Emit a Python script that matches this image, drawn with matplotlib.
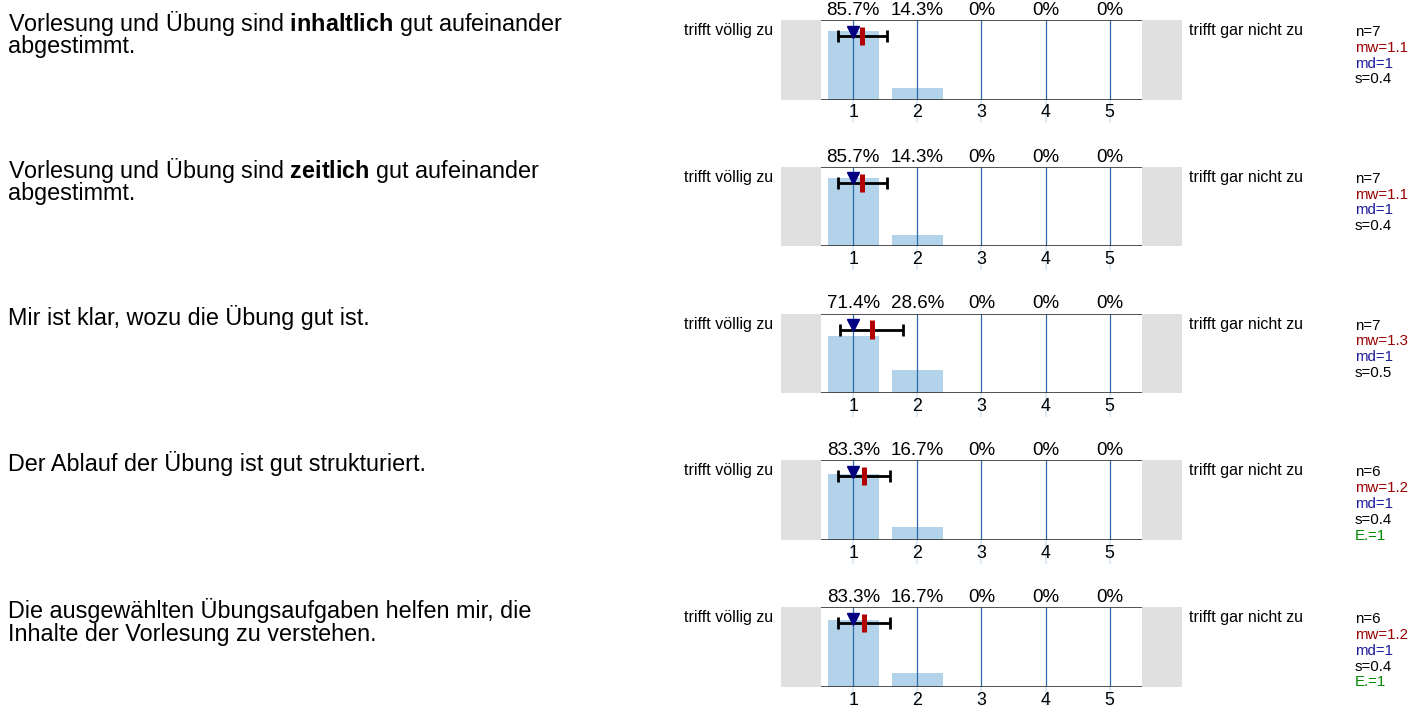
import matplotlib
matplotlib.use('Agg')
import matplotlib.pyplot as plt

plt.rcParams['font.family'] = 'Liberation Sans'
plt.rcParams['mathtext.fontset'] = 'custom'
plt.rcParams['mathtext.rm'] = 'Liberation Sans'
plt.rcParams['mathtext.bf'] = 'Liberation Sans:bold'

questions = [
    'Vorlesung und Übung sind $\\mathbf{inhaltlich}$ gut aufeinander\nabgestimmt.',
    'Vorlesung und Übung sind $\\mathbf{zeitlich}$ gut aufeinander\nabgestimmt.',
    'Mir ist klar, wozu die Übung gut ist.',
    'Der Ablauf der Übung ist gut strukturiert.',
    'Die ausgewählten Übungsaufgaben helfen mir, die\nInhalte der Vorlesung zu verstehen.',
]
scale = [1, 2, 3, 4, 5]
pct = [
    [85.7, 14.3, 0, 0, 0],
    [85.7, 14.3, 0, 0, 0],
    [71.4, 28.6, 0, 0, 0],
    [83.3, 16.7, 0, 0, 0],
    [83.3, 16.7, 0, 0, 0],
]
n_vals = [7, 7, 7, 6, 6]
mw_vals = [1.1, 1.1, 1.3, 1.2, 1.2]
md_vals = [1, 1, 1, 1, 1]
s_vals = [0.4, 0.4, 0.5, 0.4, 0.4]
e_vals = [None, None, None, 1, 1]
# unrounded mean / sd
mean_pos = [1.14, 1.14, 1.29, 1.17, 1.17]
sd_pos = [0.38, 0.38, 0.49, 0.41, 0.41]
left_label = 'trifft völlig zu'
right_label = 'trifft gar nicht zu'

W, H = 1415, 706
fig = plt.figure(figsize=(W / 100, H / 100), dpi=100)

def fx(p):
    return p / W

def fy(p):
    return 1 - p / H

x0, x1 = 780.7, 1181.7
xl = (-0.132, 6.124)

for i in range(len(questions)):
    top = 20 + i * 146.8
    bot = top + 79.5
    ax = fig.add_axes([fx(x0), fy(bot), fx(x1) - fx(x0), (bot - top) / H])
    ax.set_xlim(*xl)
    ax.set_ylim(0, 1)
    ax.axvspan(xl[0], 0.5, color='#e0e0e0', lw=0, zorder=0)
    ax.axvspan(5.5, xl[1], color='#e0e0e0', lw=0, zorder=0)
    ax.bar(scale, [p / 100 for p in pct[i]], width=0.8, color='#b3d3eb', zorder=1)
    ax.vlines(scale, 0, 1, color='#2e6aa9', lw=0.9, zorder=2)
    ax.vlines(scale, -0.3, 0, color='#d8e8f5', lw=1.2, clip_on=False, zorder=0)
    ax.hlines([0, 1], 0.5, 5.5, color='#333333', lw=1.2, zorder=3)
    for x, p in zip(scale, pct[i]):
        ax.text(x, 1.065, f'{p:g}%', ha='center', va='baseline', fontsize=13.5)

    ax.errorbar(mean_pos[i], 0.8, xerr=sd_pos[i], color='black', lw=2,
                capsize=4.3, capthick=2, zorder=4)
    ax.plot([mean_pos[i], mean_pos[i]], [0.685, 0.915], color='#b30000', lw=3.6,
            solid_capstyle='butt', zorder=5)
    ax.plot(md_vals[i], 0.855, marker='v', ms=9, color='#000080', zorder=6)

    ax.set_xticks(scale)
    ax.set_yticks([])
    ax.tick_params(axis='x', length=0, labelsize=12.8, pad=3.5)
    for sp in ax.spines.values():
        sp.set_visible(False)

    for k, line in enumerate(questions[i].split('\n')):
        fig.text(fx(8), fy(top + 11 + k * 22.5), line, ha='left', va='baseline',
                 fontsize=16.8)
    fig.text(fx(773.3), fy(top + 15), left_label, ha='right', va='baseline', fontsize=11.5)
    fig.text(fx(1189.3), fy(top + 15), right_label, ha='left', va='baseline', fontsize=11.5)

    stats = [(f'n={n_vals[i]}', 'black'), (f'mw={mw_vals[i]}', '#990000'),
             (f'md={md_vals[i]}', '#1a1a99'), (f's={s_vals[i]}', 'black')]
    if e_vals[i] is not None:
        stats.append((f'E.={e_vals[i]}', '#008800'))
    for k, (t, c) in enumerate(stats):
        fig.text(fx(1355), fy(top + 16 + k * 15.8), t, color=c, ha='left',
                 va='baseline', fontsize=10.8)

fig.savefig('out.png', dpi=100)
